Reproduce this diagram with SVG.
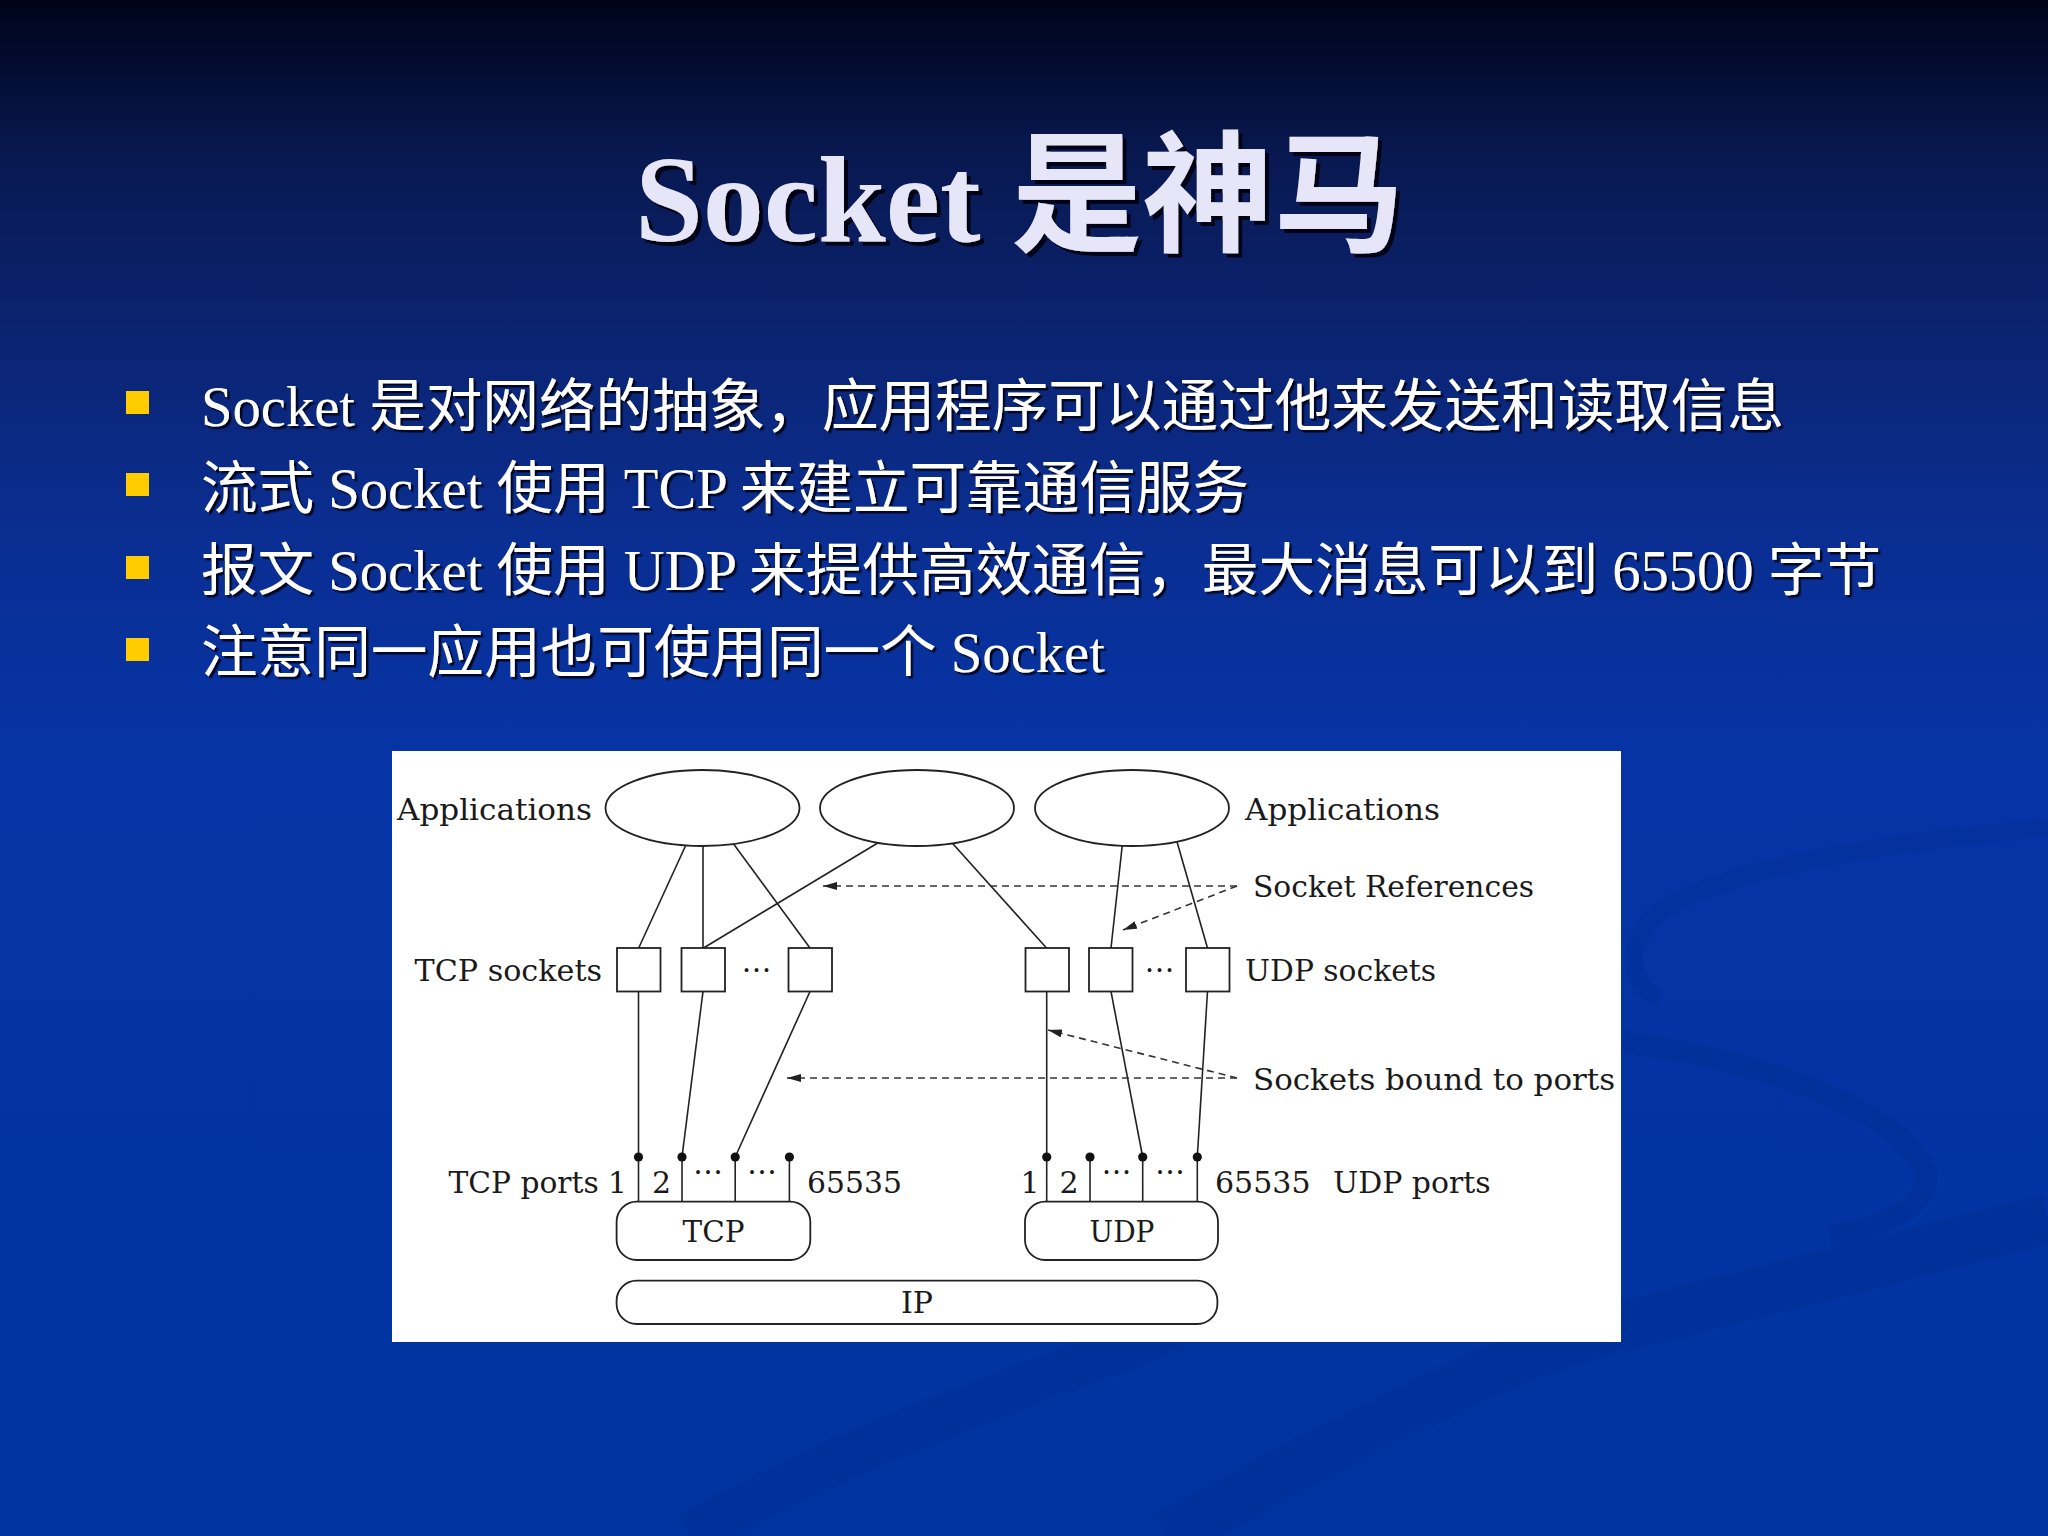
<svg xmlns="http://www.w3.org/2000/svg" width="2048" height="1536" viewBox="0 0 2048 1536">
<defs>
  <linearGradient id="bg" x1="0" y1="0" x2="0" y2="1">
    <stop offset="0" stop-color="#00041a"/>
    <stop offset="0.1" stop-color="#081850"/>
    <stop offset="0.22" stop-color="#0b2472"/>
    <stop offset="0.35" stop-color="#0a2e92"/>
    <stop offset="0.5" stop-color="#0634a6"/>
    <stop offset="1" stop-color="#0033a0"/>
  </linearGradient>
  <filter id="tsh" x="-5%" y="-10%" width="110%" height="130%">
    <feDropShadow dx="4" dy="4" stdDeviation="0.6" flood-color="#000010" flood-opacity="0.9"/>
  </filter>
  <filter id="bsh" x="-2%" y="-10%" width="104%" height="130%">
    <feDropShadow dx="2.5" dy="2.5" stdDeviation="0.4" flood-color="#000010" flood-opacity="0.85"/>
  </filter>
  <marker id="arr" viewBox="0 0 14 8" refX="14" refY="4" markerWidth="14" markerHeight="8" markerUnits="userSpaceOnUse" orient="auto">
    <path d="M0,0 L14,4 L0,8 z" fill="#222"/>
  </marker>
  <style>
    .title { font-family: "Liberation Serif","Noto Sans CJK SC",serif; font-weight:bold; fill:#e6e6f8; }
    .bt { font-family: "Liberation Serif","Noto Sans CJK SC",serif; font-size:56.6px; fill:#ffffff; }
    .bul { fill:#ffcc00; }
    .lbl { font-family:"DejaVu Serif","Liberation Serif",serif; font-size:30px; fill:#1a1a1a; }
    .sh { fill:#ffffff; stroke:#222; stroke-width:1.8; }
    .ln { stroke:#222; stroke-width:1.6; fill:none; }
    .dl { stroke:#333; stroke-width:1.6; stroke-dasharray:7 5; fill:none; }
    .dot { fill:#111; }
    .sw { fill:none; stroke:#002a8c; stroke-opacity:0.3; }
  </style>
</defs>

<g id="background">
  <rect x="0" y="0" width="2048" height="1536" fill="url(#bg)"/>
  <path class="sw" stroke-width="18" d="M 2048 828 C 1900 840, 1700 870, 1650 920 C 1625 950, 1630 985, 1660 1000"/>
  <path class="sw" stroke-width="22" d="M 1622 1042 C 1760 1060, 1900 1110, 1925 1170 C 1935 1205, 1880 1228, 1830 1236"/>
  <path class="sw" stroke-width="50" d="M 2048 1219 L 1640 1322 C 1540 1345, 1450 1380, 1168 1536"/>
  <path class="sw" stroke-width="45" d="M 1250 1300 C 1050 1380, 850 1440, 690 1536"/>
</g>

<g id="title" filter="url(#tsh)">
  <text class="title" x="635" y="241"><tspan font-size="122">Socket </tspan><tspan font-size="131">是神马</tspan></text>
</g>

<g id="bullets">
  <rect class="bul" x="126" y="391" width="23" height="23"/>
  <rect class="bul" x="126" y="473" width="23" height="23"/>
  <rect class="bul" x="126" y="556" width="23" height="23"/>
  <rect class="bul" x="126" y="638" width="23" height="23"/>
  <g filter="url(#bsh)">
    <text class="bt" x="201" y="426">Socket 是对网络的抽象，应用程序可以通过他来发送和读取信息</text>
    <text class="bt" x="201" y="508">流式 Socket 使用 TCP 来建立可靠通信服务</text>
    <text class="bt" x="201" y="590">报文 Socket 使用 UDP 来提供高效通信，最大消息可以到 65500 字节</text>
    <text class="bt" x="201" y="672">注意同一应用也可使用同一个 Socket</text>
  </g>
</g>

<g id="panel">
  <rect x="392" y="751" width="1229" height="591" fill="#ffffff"/>
</g>

<g id="connectors">
  <line class="ln" x1="690.5" y1="835" x2="638.7" y2="948"/>
  <line class="ln" x1="703" y1="835" x2="703" y2="948"/>
  <line class="ln" x1="727" y1="835" x2="810" y2="948"/>
  <line class="ln" x1="891" y1="835" x2="703.5" y2="948"/>
  <line class="ln" x1="945" y1="835" x2="1046.5" y2="948"/>
  <line class="ln" x1="1124.6" y1="824" x2="1111" y2="948"/>
  <line class="ln" x1="1171.6" y1="823" x2="1207.5" y2="948"/>
  <line class="ln" x1="638.5" y1="991.5" x2="638.5" y2="1201.7"/>
  <line class="ln" x1="703" y1="991.5" x2="682" y2="1157"/>
  <line class="ln" x1="810" y1="991.5" x2="735.2" y2="1157"/>
  <line class="ln" x1="1046.7" y1="991.5" x2="1046.7" y2="1201.7"/>
  <line class="ln" x1="1111" y1="991.5" x2="1142.7" y2="1157"/>
  <line class="ln" x1="1207.5" y1="991.5" x2="1197.3" y2="1157"/>
  <line class="ln" x1="682" y1="1157" x2="682" y2="1201.7"/>
  <line class="ln" x1="735.2" y1="1157" x2="735.2" y2="1201.7"/>
  <line class="ln" x1="789.4" y1="1157" x2="789.4" y2="1201.7"/>
  <line class="ln" x1="1090" y1="1157" x2="1090" y2="1201.7"/>
  <line class="ln" x1="1142.7" y1="1157" x2="1142.7" y2="1201.7"/>
  <line class="ln" x1="1197.3" y1="1157" x2="1197.3" y2="1201.7"/>
  <line class="dl" x1="1237" y1="886" x2="823" y2="886" marker-end="url(#arr)"/>
  <line class="dl" x1="1237" y1="886" x2="1123" y2="930" marker-end="url(#arr)"/>
  <line class="dl" x1="1237" y1="1078" x2="787" y2="1078" marker-end="url(#arr)"/>
  <line class="dl" x1="1237" y1="1078" x2="1048" y2="1030" marker-end="url(#arr)"/>
</g>

<g id="app1"><ellipse class="sh" cx="702.5" cy="808" rx="97" ry="38" fill="none"/></g>
<g id="app2"><ellipse class="sh" cx="917" cy="808" rx="97" ry="38"/></g>
<g id="app3"><ellipse class="sh" cx="1132" cy="808" rx="97" ry="38"/></g>

<g id="tcp-socket-1"><rect class="sh" x="617" y="948" width="43.5" height="43.5"/></g>
<g id="tcp-socket-2"><rect class="sh" x="681.5" y="948" width="43.5" height="43.5"/></g>
<g id="tcp-socket-3"><rect class="sh" x="788.5" y="948" width="43.5" height="43.5"/></g>
<g id="udp-socket-1"><rect class="sh" x="1025.5" y="948" width="43.5" height="43.5"/></g>
<g id="udp-socket-2"><rect class="sh" x="1089" y="948" width="43.5" height="43.5"/></g>
<g id="udp-socket-3"><rect class="sh" x="1186" y="948" width="43.5" height="43.5"/></g>

<g id="tcp"><rect class="sh" x="616.6" y="1201.7" width="193.7" height="58.3" rx="20"/>
  <text class="lbl" x="713.5" y="1242" text-anchor="middle" textLength="62" lengthAdjust="spacingAndGlyphs">TCP</text></g>
<g id="udp"><rect class="sh" x="1025" y="1201.7" width="193" height="58.3" rx="20"/>
  <text class="lbl" x="1122" y="1242" text-anchor="middle" textLength="65" lengthAdjust="spacingAndGlyphs">UDP</text></g>
<g id="ip"><rect class="sh" x="616.6" y="1280.7" width="600.8" height="43.3" rx="20"/>
  <text class="lbl" x="917" y="1313" text-anchor="middle">IP</text></g>

<g id="ports">
  <circle class="dot" cx="638.5" cy="1157" r="4.6"/>
  <circle class="dot" cx="682" cy="1157" r="4.6"/>
  <circle class="dot" cx="735.2" cy="1157" r="4.6"/>
  <circle class="dot" cx="789.4" cy="1157" r="4.6"/>
  <circle class="dot" cx="1046.7" cy="1157" r="4.6"/>
  <circle class="dot" cx="1090" cy="1157" r="4.6"/>
  <circle class="dot" cx="1142.7" cy="1157" r="4.6"/>
  <circle class="dot" cx="1197.3" cy="1157" r="4.6"/>
</g>

<g id="labels">
  <text class="lbl" x="397" y="820" textLength="195" lengthAdjust="spacingAndGlyphs">Applications</text>
  <text class="lbl" x="1245" y="820" textLength="195" lengthAdjust="spacingAndGlyphs">Applications</text>
  <text class="lbl" x="1253" y="897" textLength="281" lengthAdjust="spacingAndGlyphs">Socket References</text>
  <text class="lbl" x="414.5" y="981" textLength="187.5" lengthAdjust="spacingAndGlyphs">TCP sockets</text>
  <text class="lbl" x="1245" y="981" textLength="191" lengthAdjust="spacingAndGlyphs">UDP sockets</text>
  <text class="lbl" x="1253" y="1090" textLength="362" lengthAdjust="spacingAndGlyphs">Sockets bound to ports</text>
  <text class="lbl" x="756.5" y="972" text-anchor="middle">…</text>
  <text class="lbl" x="1159.5" y="972" text-anchor="middle">…</text>
  <text class="lbl" x="448.5" y="1193" textLength="178.5" lengthAdjust="spacingAndGlyphs">TCP ports 1</text>
  <text class="lbl" x="652" y="1193">2</text>
  <text class="lbl" x="708" y="1174" text-anchor="middle">…</text>
  <text class="lbl" x="762" y="1174" text-anchor="middle">…</text>
  <text class="lbl" x="807" y="1193" textLength="95" lengthAdjust="spacingAndGlyphs">65535</text>
  <text class="lbl" x="1020.6" y="1193">1</text>
  <text class="lbl" x="1059.5" y="1193">2</text>
  <text class="lbl" x="1116.5" y="1174" text-anchor="middle">…</text>
  <text class="lbl" x="1170" y="1174" text-anchor="middle">…</text>
  <text class="lbl" x="1215" y="1193" textLength="95.6" lengthAdjust="spacingAndGlyphs">65535</text>
  <text class="lbl" x="1333" y="1193" textLength="157.7" lengthAdjust="spacingAndGlyphs">UDP ports</text>
</g>
</svg>
